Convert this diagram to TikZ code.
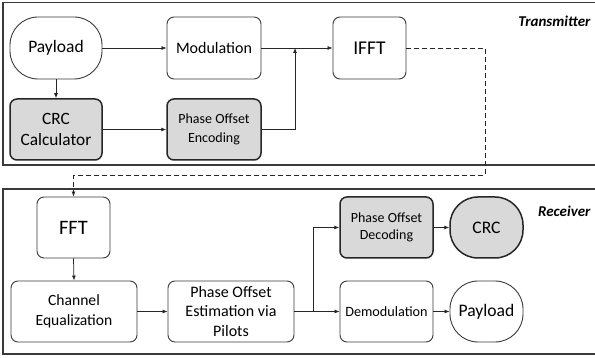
\documentclass[tikz,border=0pt]{standalone}
\usepackage{fontspec}
\setmainfont{Carlito}
\usetikzlibrary{arrows.meta}
\definecolor{boxgray}{HTML}{D9D9D9}
\definecolor{edge}{HTML}{3A3A3A}
\tikzset{
  frame/.style={draw=edge, line width=1.4pt},
  wbox/.style={draw=edge, line width=0.9pt, fill=white, rounded corners=7pt, inner sep=0pt, align=center},
  gbox/.style={draw=black!85, line width=1.5pt, fill=boxgray, rounded corners=7pt, inner sep=0pt, align=center},
  pill/.style={rounded corners=28pt},
  conn/.style={draw=black!85, line width=0.75pt, -{Latex[length=5pt,width=4pt]}},
  dconn/.style={conn, dashed, dash pattern=on 5pt off 3pt},
  lbl/.style={font=\bfseries\itshape\fontsize{15}{17}\selectfont, anchor=east}
}
\begin{document}
\begin{tikzpicture}[x=1pt,y=-1pt]
\useasboundingbox (0,0) rectangle (595,358);
\fill[white] (0,0) rectangle (595,358);
% frames
\draw[frame] (600,2.5) -- (3,2.5) -- (3,165) -- (600,165);
\draw[frame] (600,189) -- (3,189) -- (3,354) -- (600,354);
\node[lbl] (tx) at (594,21) {Transmitter};
\node[lbl] (rx) at (594,211) {Receiver};
% transmitter nodes
\node[wbox, pill, minimum width=92pt, minimum height=62pt, font=\fontsize{17.5}{20}\selectfont] (ptx) at (56,48) {Payload};
\node[wbox, minimum width=94pt, minimum height=62pt, font=\fontsize{16}{19}\selectfont] (mod) at (214,48) {Modulation};
\node[gbox, minimum width=92pt, minimum height=61pt, font=\fontsize{17.3}{21}\selectfont] (crc) at (56,129.5) {CRC\\Calculator};
\node[gbox, minimum width=94pt, minimum height=61pt, font=\fontsize{14}{19}\selectfont] (poe) at (214,129.5) {Phase Offset\\Encoding};
\node[wbox, minimum width=73pt, minimum height=62pt, font=\fontsize{19.5}{22}\selectfont] (ifft) at (369.5,48) {IFFT};
% receiver nodes
\node[wbox, minimum width=73pt, minimum height=61pt, font=\fontsize{20.5}{23}\selectfont] (fft) at (73.5,227.5) {FFT};
\node[wbox, minimum width=126pt, minimum height=61pt, font=\fontsize{15.6}{20}\selectfont] (ce) at (74,311.5) {Channel\\Equalization};
\node[wbox, minimum width=126pt, minimum height=61pt, font=\fontsize{16}{19.5}\selectfont] (pest) at (231,311.5) {Phase Offset\\Estimation via\\Pilots};
\node[gbox, minimum width=93pt, minimum height=61pt, font=\fontsize{14}{17}\selectfont] (pod) at (386.5,227.5) {Phase Offset\\Decoding};
\node[gbox, pill, minimum width=73pt, minimum height=61pt, font=\fontsize{17.6}{20}\selectfont] (crcr) at (486.5,227.5) {CRC};
\node[wbox, minimum width=93pt, minimum height=61pt, font=\fontsize{14.2}{17}\selectfont] (dem) at (386.5,311.5) {Demodulation};
\node[wbox, pill, minimum width=73pt, minimum height=61pt, font=\fontsize{17.6}{20}\selectfont] (prx) at (486.5,311.5) {Payload};
% coordinates
\coordinate (j1) at (295,48);
\coordinate (d1) at (485,175);
\coordinate (j2) at (313,311.5);
% connectors
\draw[conn] (ptx.east) -- (mod.west);
\draw[conn] (ptx.south) -- (crc.north);
\draw[conn] (crc.east) -- (poe.west);
\draw[conn] (mod.east) -- (ifft.west);
\draw[conn] (poe.east) -| (j1);
\draw[dconn] (ifft.east) -| (d1) -| (fft.north);
\draw[conn] (fft.south) -- (ce.north);
\draw[conn] (ce.east) -- (pest.west);
\draw[conn] (pest.east) -- (dem.west);
\draw[conn] (j2) |- (pod.west);
\draw[conn] (pod.east) -- (crcr.west);
\draw[conn] (dem.east) -- (prx.west);
\end{tikzpicture}
\end{document}
